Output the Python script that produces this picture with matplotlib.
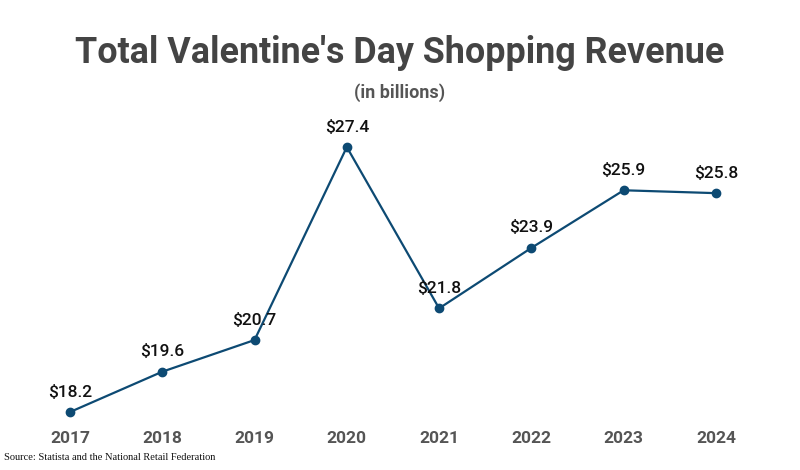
import matplotlib
matplotlib.use("Agg")
import matplotlib.pyplot as plt

years = [2017, 2018, 2019, 2020, 2021, 2022, 2023, 2024]
revenue = [18.2, 19.6, 20.7, 27.4, 21.8, 23.9, 25.9, 25.8]
labels = ["$18.2", "$19.6", "$20.7", "$27.4", "$21.8", "$23.9", "$25.9", "$25.8"]

plt.rcParams["font.family"] = "Roboto"
fig = plt.figure(figsize=(8, 4.7), dpi=100)
ax = fig.add_axes([30/800, 45/470, 730/800, 305/470])
color = "#0d4a73"
ax.plot(years, revenue, color=color, lw=1.6, marker="o", ms=6, zorder=3)
for x, y, t in zip(years, revenue, labels):
    ax.annotate(t, (x, y), xytext=(0, 9), textcoords="offset points",
                ha="center", va="bottom", fontsize=12.5, fontweight="medium", color="#111111")
ax.set_xlim(2016.567, 2024.477)
ax.set_ylim(17.75, 28.34)
ax.set_xticks(years)
ax.set_xticklabels([str(y) for y in years], fontsize=12.5, fontweight="bold", color="#555555")
ax.set_yticks([])
ax.tick_params(axis="x", length=0, pad=4)
for s in ax.spines.values():
    s.set_visible(False)
fig.text(0.5, 1 - 53/470, "Total Valentine's Day Shopping Revenue", ha="center", va="center",
         fontsize=25.8, fontweight="bold", color="#444444")
fig.text(0.5, 1 - 93/470, "(in billions)", ha="center", va="center",
         fontsize=13, fontweight="bold", color="#555555")
fig.text(4/800, 1 - 458/470, "Source: Statista and the National Retail Federation", ha="left", va="center",
         fontsize=7.5, family="Liberation Serif", color="#111111")
fig.savefig("out.png", dpi=100)
